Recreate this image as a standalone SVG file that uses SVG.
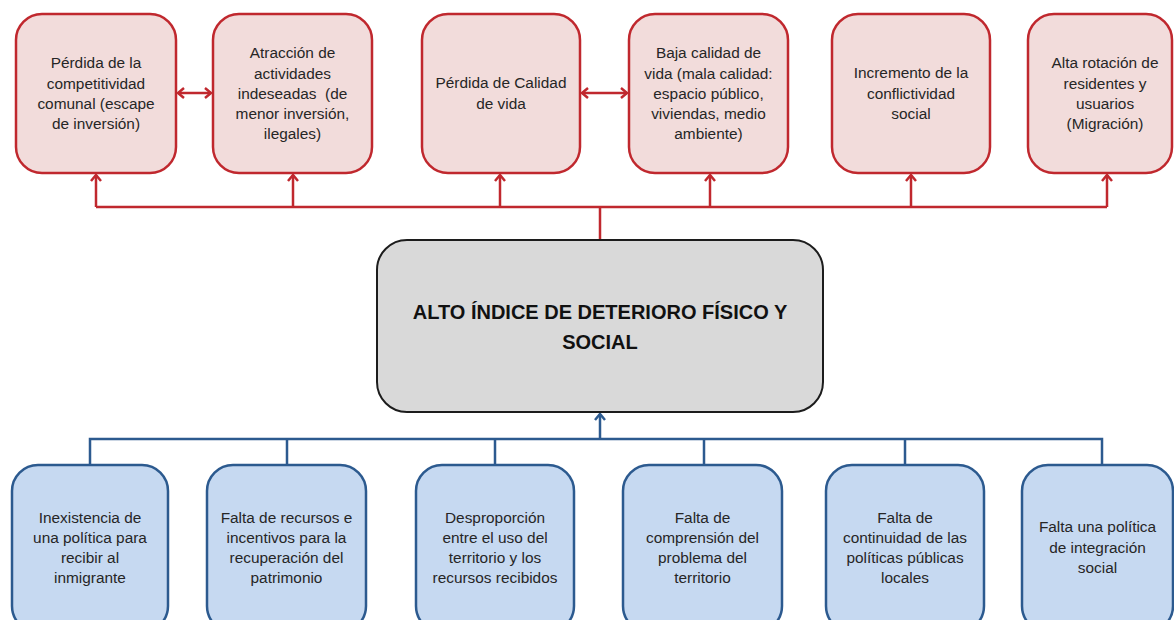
<svg xmlns="http://www.w3.org/2000/svg" width="1174" height="620" viewBox="0 0 1174 620">
<defs>
<style>
.top{fill:#f2dcdb;stroke:#c0282e;stroke-width:2.5}
.bot{fill:#c6d9f1;stroke:#2c5a8f;stroke-width:2.5}
.ctr{fill:#d9d9d9;stroke:#1c1c1c;stroke-width:2}
.t{font-family:"Liberation Sans",Arial,sans-serif;font-size:15.4px;fill:#262626;text-anchor:middle;white-space:pre}
.tb{font-family:"Liberation Sans",Arial,sans-serif;font-size:20px;font-weight:bold;fill:#111;text-anchor:middle}
.rl{fill:none;stroke:#c0282e;stroke-width:2.5}
.bl{fill:none;stroke:#2c5a8f;stroke-width:2.5}
</style>
<marker id="ar" viewBox="-8 -7 10 14" refX="0" refY="0" markerWidth="10" markerHeight="14" markerUnits="userSpaceOnUse" orient="auto-start-reverse">
<path d="M-6,-5 L0,0 L-6,5" fill="none" stroke="#c0282e" stroke-width="2.5"/>
</marker>
<marker id="ab" viewBox="-8 -7 10 14" refX="0" refY="0" markerWidth="10" markerHeight="14" markerUnits="userSpaceOnUse" orient="auto">
<path d="M-6,-5 L0,0 L-6,5" fill="none" stroke="#2c5a8f" stroke-width="2.5"/>
</marker>
</defs>
<rect width="1174" height="620" fill="#ffffff"/>

<g id="connectors">
<path class="rl" d="M96,207 H1107 M600,240 V207"/>
<path class="rl" d="M96,207 V175" marker-end="url(#ar)"/>
<path class="rl" d="M293,207 V175" marker-end="url(#ar)"/>
<path class="rl" d="M500,207 V175" marker-end="url(#ar)"/>
<path class="rl" d="M710,207 V175" marker-end="url(#ar)"/>
<path class="rl" d="M911,207 V175" marker-end="url(#ar)"/>
<path class="rl" d="M1107,207 V175" marker-end="url(#ar)"/>
<path class="rl" d="M178,93 H211" marker-start="url(#ar)" marker-end="url(#ar)"/>
<path class="rl" d="M582,93 H627" marker-start="url(#ar)" marker-end="url(#ar)"/>
<path class="bl" d="M90,465 V439 H1102 V465 M287,439 V465 M495,439 V465 M704,439 V465 M905,439 V465"/>
<path class="bl" d="M600,439 V414" marker-end="url(#ab)"/>
</g>

<g id="n-top1"><rect class="top" x="16" y="14" width="160" height="159" rx="26"/>
<text class="t" x="96"><tspan y="68">Pérdida de la</tspan><tspan x="96" y="88.5">competitividad</tspan><tspan x="96" y="109">comunal (escape</tspan><tspan x="96" y="129">de inversión)</tspan></text></g>
<g id="n-top2"><rect class="top" x="213" y="14" width="159" height="159" rx="26"/>
<text class="t" x="292.5"><tspan y="58">Atracción de</tspan><tspan x="292.5" y="78.5">actividades</tspan><tspan x="292.5" y="99">indeseadas  (de</tspan><tspan x="292.5" y="119">menor inversión,</tspan><tspan x="292.5" y="139">ilegales)</tspan></text></g>
<g id="n-top3"><rect class="top" x="422" y="14" width="158" height="159" rx="26"/>
<text class="t" x="501"><tspan y="88">Pérdida de Calidad</tspan><tspan x="501" y="108.5">de vida</tspan></text></g>
<g id="n-top4"><rect class="top" x="629" y="14" width="159" height="159" rx="26"/>
<text class="t" x="708.5"><tspan y="58">Baja calidad de</tspan><tspan x="708.5" y="78.5">vida (mala calidad:</tspan><tspan x="708.5" y="99">espacio público,</tspan><tspan x="708.5" y="119">viviendas, medio</tspan><tspan x="708.5" y="139">ambiente)</tspan></text></g>
<g id="n-top5"><rect class="top" x="832" y="14" width="158" height="159" rx="26"/>
<text class="t" x="911"><tspan y="78">Incremento de la</tspan><tspan x="911" y="98.5">conflictividad</tspan><tspan x="911" y="119">social</tspan></text></g>
<g id="n-top6"><rect class="top" x="1028" y="14" width="144" height="159" rx="26"/>
<text class="t" x="1105"><tspan y="68">Alta rotación de</tspan><tspan x="1105" y="88.5">residentes y</tspan><tspan x="1105" y="109">usuarios</tspan><tspan x="1105" y="129">(Migración)</tspan></text></g>

<g id="n-center"><rect class="ctr" x="377" y="240" width="446" height="172" rx="30"/>
<text class="tb" x="600"><tspan y="319">ALTO ÍNDICE DE DETERIORO FÍSICO Y</tspan><tspan x="600" y="349">SOCIAL</tspan></text></g>

<g id="n-bot1"><rect class="bot" x="12" y="465" width="156" height="167" rx="26"/>
<text class="t" x="90"><tspan y="523">Inexistencia de</tspan><tspan x="90" y="543">una política para</tspan><tspan x="90" y="563">recibir al</tspan><tspan x="90" y="583">inmigrante</tspan></text></g>
<g id="n-bot2"><rect class="bot" x="207" y="465" width="159" height="167" rx="26"/>
<text class="t" x="286.5"><tspan y="523">Falta de recursos e</tspan><tspan x="286.5" y="543">incentivos para la</tspan><tspan x="286.5" y="563">recuperación del</tspan><tspan x="286.5" y="583">patrimonio</tspan></text></g>
<g id="n-bot3"><rect class="bot" x="416" y="465" width="158" height="167" rx="26"/>
<text class="t" x="495"><tspan y="523">Desproporción</tspan><tspan x="495" y="543">entre el uso del</tspan><tspan x="495" y="563">territorio y los</tspan><tspan x="495" y="583">recursos recibidos</tspan></text></g>
<g id="n-bot4"><rect class="bot" x="623" y="465" width="159" height="167" rx="26"/>
<text class="t" x="702.5"><tspan y="523">Falta de</tspan><tspan x="702.5" y="543">comprensión del</tspan><tspan x="702.5" y="563">problema del</tspan><tspan x="702.5" y="583">territorio</tspan></text></g>
<g id="n-bot5"><rect class="bot" x="826" y="465" width="158" height="167" rx="26"/>
<text class="t" x="905"><tspan y="523">Falta de</tspan><tspan x="905" y="543">continuidad de las</tspan><tspan x="905" y="563">políticas públicas</tspan><tspan x="905" y="583">locales</tspan></text></g>
<g id="n-bot6"><rect class="bot" x="1022" y="465" width="151" height="167" rx="26"/>
<text class="t" x="1097.5"><tspan y="532">Falta una política</tspan><tspan x="1097.5" y="553">de integración</tspan><tspan x="1097.5" y="573">social</tspan></text></g>
</svg>
